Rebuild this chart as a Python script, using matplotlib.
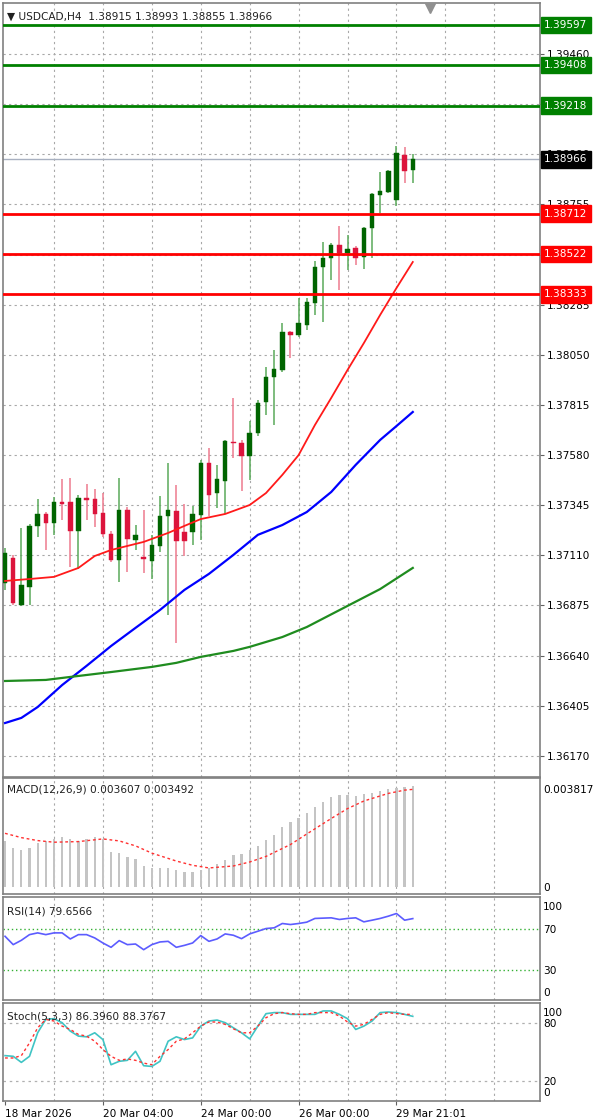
import numpy as np
import matplotlib
matplotlib.use("Agg")
import matplotlib.pyplot as plt
import matplotlib.transforms as mtrans

plt.rcParams['font.family'] = ['DejaVu Sans']

# ---------------- data ----------------
opens = [1.36980,1.37098,1.36877,1.36962,1.37248,1.37304,1.37262,1.37360,1.37360,1.37224,1.37379,1.37374,1.37309,1.37210,1.37088,1.37323,1.37182,1.37102,1.37084,1.37154,1.37295,1.37318,1.37219,1.37219,1.37299,1.37543,1.37402,1.37459,1.37641,1.37637,1.37576,1.37684,1.37829,1.37946,1.37979,1.38157,1.38143,1.38190,1.38293,1.38462,1.38504,1.38565,1.38527,1.38551,1.38509,1.38644,1.38799,1.38813,1.38776,1.38987,1.38915]
closes = [1.37121,1.36887,1.36971,1.37248,1.37304,1.37262,1.37360,1.37351,1.37224,1.37379,1.37370,1.37304,1.37210,1.37088,1.37323,1.37187,1.37205,1.37093,1.37159,1.37295,1.37323,1.37177,1.37177,1.37304,1.37543,1.37393,1.37468,1.37646,1.37637,1.37576,1.37684,1.37824,1.37946,1.37984,1.38157,1.38143,1.38199,1.38298,1.38462,1.38504,1.38565,1.38527,1.38546,1.38504,1.38644,1.38804,1.38818,1.38912,1.38996,1.38912,1.38966]
highs = [1.37144,1.37112,1.37238,1.37257,1.37374,1.37313,1.37384,1.37468,1.37473,1.37393,1.37444,1.37421,1.37402,1.37224,1.37473,1.37337,1.37252,1.37323,1.37205,1.37388,1.37543,1.37440,1.37351,1.37341,1.37557,1.37613,1.37534,1.37651,1.37848,1.37651,1.37740,1.37838,1.37993,1.38073,1.38199,1.38162,1.38316,1.38316,1.38490,1.38579,1.38574,1.38654,1.38612,1.38560,1.38649,1.38808,1.38907,1.38916,1.39029,1.39024,1.38993]
lows = [1.36948,1.36877,1.36873,1.36877,1.37196,1.37135,1.37205,1.37276,1.37055,1.37046,1.37276,1.37243,1.37196,1.37079,1.36985,1.37032,1.37135,1.37027,1.36999,1.37126,1.36831,1.36699,1.37107,1.37159,1.37182,1.37295,1.37332,1.37304,1.37566,1.37412,1.37463,1.37670,1.37768,1.37721,1.37970,1.38035,1.38133,1.38166,1.38237,1.38204,1.38401,1.38354,1.38448,1.38471,1.38452,1.38504,1.38715,1.38808,1.38748,1.38855,1.38855]

ma_red_idx = [0,3,6,9,11,13,17,20,22,24,27,29,30,32,34,36,38,40,42,44,46,48,50]
ma_red = [1.36990,1.36999,1.37009,1.37051,1.37107,1.37135,1.37173,1.37215,1.37248,1.37280,1.37304,1.37332,1.37346,1.37402,1.37487,1.37580,1.37721,1.37848,1.37979,1.38105,1.38237,1.38363,1.38485]
ma_blue_idx = [0,2,4,7,10,13,16,19,22,25,28,31,34,37,40,43,46,48,50]
ma_blue = [1.36324,1.36348,1.36399,1.36502,1.36592,1.36685,1.36770,1.36854,1.36948,1.37023,1.37112,1.37206,1.37252,1.37313,1.37407,1.37534,1.37651,1.37716,1.37782]
ma_green_idx = [0,5,8,13,18,21,24,28,30,34,37,42,46,50]
ma_green = [1.36521,1.36526,1.36540,1.36563,1.36587,1.36606,1.36634,1.36662,1.36681,1.36727,1.36774,1.36873,1.36952,1.37051]

levels_green = [1.39597, 1.39408, 1.39218]
levels_red = [1.38712, 1.38522, 1.38333]
last_price = 1.38966
price_ticks = [1.39460, 1.39225, 1.38990, 1.38755, 1.38520, 1.38285, 1.38050, 1.37815,
               1.37580, 1.37345, 1.37110, 1.36875, 1.36640, 1.36405, 1.36170]

macd_hist = [0.001656,0.001395,0.001325,0.001395,0.001561,0.001656,0.001715,0.001798,0.001715,0.001656,0.001715,0.001774,0.001715,0.001242,0.001206,0.001064,0.001005,0.000733,0.000686,0.000686,0.000674,0.000591,0.000532,0.000532,0.000615,0.000686,0.000828,0.000970,0.001123,0.001183,0.001301,0.001478,0.001679,0.001869,0.002152,0.002306,0.002483,0.002637,0.002874,0.003039,0.003217,0.003288,0.003288,0.003252,0.003311,0.003370,0.003430,0.003489,0.003524,0.003571,0.003607]
macd_sig_idx = [0,2,4,6,9,12,14,16,18,21,23,25,28,30,32,35,37,40,42,44,47,49,50]
macd_sig = [0.001916,0.001762,0.001656,0.001597,0.001620,0.001715,0.001644,0.001466,0.001206,0.000922,0.000769,0.000674,0.000745,0.000887,0.001088,0.001514,0.001892,0.002448,0.002803,0.003075,0.003347,0.003465,0.003492]

rsi = [62.5,54.4,58.6,64.1,65.8,64.1,65.8,65.8,59.9,64.1,64.1,60.9,56.0,51.8,58.3,54.4,55.0,49.5,54.4,57.0,57.6,51.8,53.7,56.0,63.2,57.6,59.9,64.8,63.5,60.2,64.8,67.4,70.0,70.7,74.9,73.9,74.9,76.2,79.8,80.1,80.4,78.8,79.8,80.4,76.5,78.1,79.8,82.0,84.6,78.1,79.66]

stoch_k = [46.3,45.6,39.4,45.6,69.6,83.3,84.0,79.9,71.3,66.2,65.5,69.6,62.7,37.0,40.5,41.5,50.7,36.0,35.3,40.5,61.0,65.5,62.7,64.4,76.4,81.6,82.6,79.9,74.7,69.6,63.4,76.4,89.1,90.2,90.2,88.4,88.4,88.4,88.4,91.9,91.9,88.4,84.0,73.0,76.4,81.6,90.2,90.8,90.2,88.4,86.4]
stoch_d = [43.9,43.9,46.3,59.3,74.7,83.3,81.6,76.4,73.0,67.9,66.2,61.0,52.5,45.6,41.5,42.9,41.5,38.7,37.0,45.6,52.5,61.0,63.4,69.6,76.4,80.6,80.6,78.2,73.7,69.6,69.6,76.4,85.0,89.1,90.2,89.1,88.4,88.4,90.2,90.2,90.2,86.7,80.6,76.4,78.2,83.3,88.4,90.2,89.1,88.4,88.4]

date_idx = [0, 12, 24, 36, 48]
date_labels = ['18 Mar 2026', '20 Mar 04:00', '24 Mar 00:00', '26 Mar 00:00', '29 Mar 21:01']

# ---------------- figure ----------------
W, H = 600, 1120
fig = plt.figure(figsize=(6, 11.2), dpi=100)
fig.patch.set_facecolor('white')

def rect(top, bot, left=3, right=540):
    return [left / W, 1 - bot / H, (right - left) / W, (bot - top) / H]

ax = fig.add_axes(rect(3, 777))
axm = fig.add_axes(rect(778, 894))
axr = fig.add_axes(rect(897, 1000))
axs = fig.add_axes(rect(1003, 1101))

XMIN, XMAX = -0.25, 65.6
grid_x = np.arange(6, 66, 6)
GRIDC = '#a8a8a8'
FS = 7.6

for a in (ax, axm, axr, axs):
    a.set_facecolor('white')
    a.set_xlim(XMIN, XMAX)
    for s in a.spines.values():
        s.set_color('#808080')
        s.set_linewidth(1.2)
    a.yaxis.tick_right()
    a.tick_params(axis='y', direction='out', length=3, width=0.8, colors='#606060',
                  labelsize=FS, labelcolor='black', pad=2)
    for gx in grid_x:
        a.axvline(gx, color=GRIDC, lw=0.8, ls=(0, (2, 3)), zorder=0)
    if a is not axs:
        a.set_xticks([])

# ---------- main price panel ----------
ax.set_ylim(1.36071, 1.39699)
ax.set_yticks(price_ticks)
ax.set_yticklabels([f'{p:.5f}' for p in price_ticks])
for p in price_ticks:
    ax.axhline(p, color=GRIDC, lw=0.8, ls=(0, (2, 3)), zorder=0)

x = np.arange(len(opens))
for i in x:
    o, c, h, l = opens[i], closes[i], highs[i], lows[i]
    up = c >= o
    body = '#006400' if up else '#dc143c'
    wick = '#5aaa5a' if up else '#ee7a8e'
    ax.vlines(i, l, h, color=wick, lw=1.1, zorder=3)
    bh = max(abs(c - o), 0.00004)
    ax.bar(i, bh, bottom=min(o, c), width=0.55, color=body, edgecolor=body, lw=0.3, zorder=4)

ax.plot(ma_red_idx, ma_red, color='#ff1a1a', lw=1.3, zorder=5)
ax.plot(ma_blue_idx, ma_blue, color='#0000ff', lw=1.6, zorder=5)
ax.plot(ma_green_idx, ma_green, color='#1f8c1f', lw=1.6, zorder=5)

for lv in levels_green:
    ax.axhline(lv, color='#008000', lw=2.0, zorder=6)
for lv in levels_red:
    ax.axhline(lv, color='#ff0000', lw=2.0, zorder=6)
ax.axhline(last_price, color='#a8b0c0', lw=1.0, zorder=2)

trans = mtrans.blended_transform_factory(ax.transAxes, ax.transData)
def box(val, fc):
    ax.text(1.008, val, f'{val:.5f}', transform=trans, ha='left', va='center',
            fontsize=FS, color='white', zorder=20, clip_on=False,
            bbox=dict(boxstyle='square,pad=0.3', fc=fc, ec=fc))
for lv in levels_green:
    box(lv, '#008000')
for lv in levels_red:
    box(lv, '#ff0000')
box(last_price, '#000000')

ax.text(0.008, 0.982, '\u25BC USDCAD,H4  1.38915 1.38993 1.38855 1.38966', transform=ax.transAxes,
        ha='left', va='center', fontsize=FS, color='#202020', zorder=20,
        bbox=dict(boxstyle='square,pad=0.1', fc='white', ec='none'))
ax.plot([0.795], [0.993], marker='v', ms=7, color='#909090', transform=ax.transAxes,
        clip_on=False, zorder=20)

# ---------- MACD ----------
axm.set_ylim(-0.00026, 0.0039)
axm.bar(np.arange(len(macd_hist)), macd_hist, width=0.28, color='#c4c4c4', zorder=2)
axm.plot(macd_sig_idx, macd_sig, color='#ff3030', lw=1.0, ls=(0, (2, 2)), zorder=3)
axm.set_yticks([0.0, 0.00352])
axm.set_yticklabels(['0', '0.003817'])
axm.tick_params(axis='y', length=0)
axm.text(0.008, 0.9, 'MACD(12,26,9) 0.003607 0.003492', transform=axm.transAxes,
         ha='left', va='center', fontsize=FS, color='#202020')

# ---------- RSI ----------
axr.set_ylim(0.7, 100.6)
axr.axhline(70, color='#33b033', lw=1.0, ls=(0, (1, 2)), zorder=1)
axr.axhline(30, color='#33b033', lw=1.0, ls=(0, (1, 2)), zorder=1)
axr.plot(np.arange(len(rsi)), rsi, color='#5c5cff', lw=1.2, zorder=3)
axr.set_yticks([92, 70, 30, 8])
axr.set_yticklabels(['100', '70', '30', '0'])
axr.tick_params(axis='y', length=0)
axr.text(0.008, 0.86, 'RSI(14) 79.6566', transform=axr.transAxes,
         ha='left', va='center', fontsize=FS, color='#202020')

# ---------- Stochastic ----------
axs.set_ylim(0.0, 100.0)
axs.axhline(80, color='#b0b0b0', lw=0.9, ls=(0, (2, 3)), zorder=1)
axs.axhline(20, color='#b0b0b0', lw=0.9, ls=(0, (2, 3)), zorder=1)
axs.plot(np.arange(len(stoch_k)), stoch_k, color='#40c4c4', lw=1.2, zorder=3)
axs.plot(np.arange(len(stoch_d)), stoch_d, color='#ff3030', lw=1.0, ls=(0, (2, 2)), zorder=4)
axs.set_yticks([91, 80, 20, 9])
axs.set_yticklabels(['100', '80', '20', '0'])
axs.tick_params(axis='y', length=0)
axs.text(0.008, 0.86, 'Stoch(5,3,3) 86.3960 88.3767', transform=axs.transAxes,
         ha='left', va='center', fontsize=FS, color='#202020')

axs.set_xticks(date_idx)
axs.set_xticklabels(date_labels, fontsize=FS, ha='left')
axs.tick_params(axis='x', pad=3, length=3, direction='out', colors='#606060',
                labelcolor='black', labelbottom=True)

fig.savefig('out.png', dpi=100, facecolor='white')
